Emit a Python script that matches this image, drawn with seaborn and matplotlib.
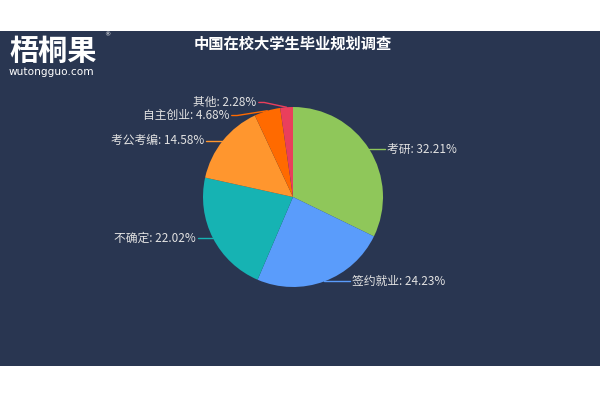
import numpy as np
import matplotlib
matplotlib.use("Agg")
import matplotlib.pyplot as plt
import seaborn as sns
from matplotlib.patches import Rectangle

sns.set_theme(style="white")
plt.rcParams['font.family'] = ['Noto Sans CJK SC', 'DejaVu Sans']

# ---- data ----
categories = ["考研", "签约就业", "不确定", "考公考编", "自主创业", "其他"]
shares = [32.21, 24.23, 22.02, 14.58, 4.68, 2.28]
title = "中国在校大学生毕业规划调查"
logo_cn = "梧桐果"
logo_url = "wutongguo.com"

# ---- style ----
colors = ["#8fc75a", "#5a9cfb", "#16b3b3", "#ff962e", "#ff6a00", "#ea3f5c"]
bg = "#293651"
label_color = "#e2e2e2"

fig = plt.figure(figsize=(6, 4), dpi=100)
fig.patch.set_facecolor("white")

# background band
bax = fig.add_axes([0, 0, 1, 1], zorder=-10)
bax.set_xlim(0, 600)
bax.set_ylim(400, 0)
bax.axis("off")
bax.add_patch(Rectangle((0, 31), 600, 335, facecolor=bg, edgecolor="none"))

# pie axes: center (293,197) px, radius 90 px
ax = fig.add_axes([143 / 600, 53 / 400, 300 / 600, 300 / 400], zorder=1)
ax.set_facecolor("none")

wedges, _ = ax.pie(shares, colors=colors, startangle=90, counterclock=False,
                   radius=1.0, wedgeprops=dict(linewidth=0))
lim = 150 / 90
ax.set_xlim(-lim, lim)
ax.set_ylim(-lim, lim)
ax.set_aspect("equal")
ax.axis("off")

# label layout (echarts-like)
R = 1.098
l2 = 0.06
items = []
for w, name, val in zip(wedges, categories, shares):
    ang = np.deg2rad((w.theta1 + w.theta2) / 2)
    ex, ey = np.cos(ang), np.sin(ang)
    items.append(dict(name=name, val=val, ex=ex, ey=ey, y=ey,
                      side=1 if ex >= 0 else -1, color=w.get_facecolor()))

min_gap = 0.145
for side in (1, -1):
    grp = sorted([it for it in items if it["side"] == side], key=lambda d: d["y"])
    for _ in range(20):
        moved = False
        for a, b in zip(grp[:-1], grp[1:]):
            if b["y"] - a["y"] < min_gap - 1e-9:
                mid = (a["y"] + b["y"]) / 2
                a["y"] = mid - min_gap / 2
                b["y"] = mid + min_gap / 2
                moved = True
        if not moved:
            break

for it in items:
    y = it["y"]
    xe = it["side"] * np.sqrt(max(R ** 2 - y ** 2, 0.0))
    xt = xe + it["side"] * l2
    ax.plot([it["ex"], xe, xt], [it["ey"], y, y], color=it["color"], lw=1,
            solid_capstyle="round", zorder=3)
    ax.text(xt + it["side"] * 0.025, y, f"{it['name']}: {it['val']:.2f}%",
            ha="left" if it["side"] > 0 else "right", va="center",
            color=label_color, fontsize=8.5)

# title
fig.text(293 / 600, 1 - 44 / 400, title, ha="center", va="center",
         color="white", fontsize=11, fontweight="bold")

# logo
fig.text(9 / 600, 1 - 60 / 400, logo_cn, ha="left", va="baseline",
         color="white", fontsize=21, fontweight="bold")
fig.text(9 / 600, 1 - 72 / 400, logo_url, ha="left", va="center",
         color="white", fontsize=7.6, family=["DejaVu Sans"])
fig.text(107 / 600, 1 - 35 / 400, "®", ha="center", va="center",
         color="white", fontsize=4.5, family=["DejaVu Sans"])

fig.savefig("out.png", dpi=100, facecolor=fig.get_facecolor())
